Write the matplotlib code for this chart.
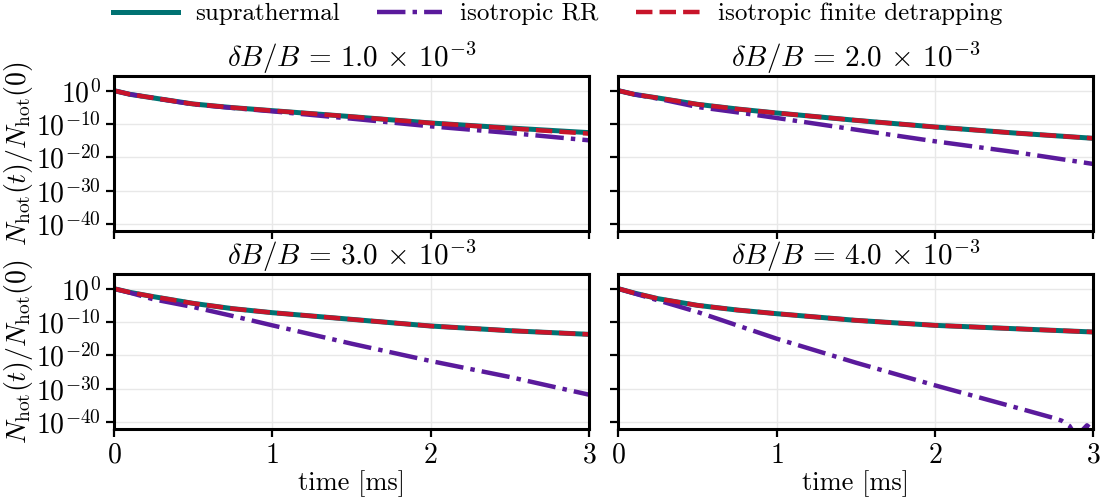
import matplotlib
matplotlib.use('Agg')
import matplotlib.pyplot as plt
import numpy as np
from matplotlib.ticker import LogFormatterSciNotation, NullLocator

plt.rcParams['font.family'] = 'serif'
plt.rcParams['font.serif'] = ['cmr10']
plt.rcParams['mathtext.fontset'] = 'cm'
plt.rcParams['axes.formatter.use_mathtext'] = True
plt.rcParams['axes.unicode_minus'] = False
plt.rcParams['font.size'] = 18

# data (log10 of N_hot(t)/N_hot(0))
t = [0, 0.1, 0.25, 0.5, 0.75, 1.0, 1.5, 2.0, 2.5, 3.0]
t_rr4 = [0, 0.1, 0.25, 0.5, 0.75, 1.0, 1.5, 2.0, 2.5, 2.75, 2.8, 2.85, 2.88, 2.93, 2.96, 3.0]

dB = ['1.0', '2.0', '3.0', '4.0']

supra_1 = [0, -1.1, -2.2, -4.0, -5.1, -6.0, -7.8, -9.7, -11.2, -12.6]
rr_1 = [0, -1.1, -2.2, -4.1, -5.2, -6.2, -8.4, -10.7, -12.7, -14.9]
fin_1 = [0, -1.1, -2.2, -4.0, -5.1, -6.0, -7.8, -9.7, -11.3, -12.9]

supra_2 = [0, -1.1, -2.2, -4.1, -5.5, -6.7, -8.9, -10.9, -12.7, -14.3]
rr_2 = [0, -1.1, -2.4, -4.9, -6.5, -8.2, -11.7, -15.2, -18.4, -22.0]
fin_2 = [0, -1.1, -2.2, -4.1, -5.5, -6.7, -8.9, -10.9, -12.7, -14.3]

supra_3 = [0, -1.1, -2.4, -4.4, -6.0, -7.2, -9.2, -11.2, -12.6, -13.7]
rr_3 = [0, -1.2, -3.2, -5.5, -8.2, -11.0, -16.5, -21.7, -26.5, -31.8]
fin_3 = [0, -1.1, -2.4, -4.4, -6.0, -7.2, -9.2, -11.2, -12.6, -13.7]

supra_4 = [0, -1.3, -3.0, -5.0, -6.4, -7.5, -9.5, -11.0, -12.0, -13.0]
rr_4 = [0, -1.4, -3.5, -7.0, -11.0, -15.0, -22.2, -29.0, -35.5, -38.8, -39.6, -41.2, -43.5, -42.5, -41.0, -42.6]
fin_4 = [0, -1.3, -3.0, -5.0, -6.4, -7.5, -9.5, -11.0, -12.0, -13.0]

supra = [supra_1, supra_2, supra_3, supra_4]
rr = [rr_1, rr_2, rr_3, rr_4]
rr_t = [t, t, t, t_rr4]
fin = [fin_1, fin_2, fin_3, fin_4]

c_supra = '#007272'
c_rr = '#5a1a9c'
c_fin = '#c8142a'

fig, axs = plt.subplots(2, 2, figsize=(11.04, 5.01), dpi=100, sharex=True, sharey=True)
fig.subplots_adjust(left=0.1033, right=0.9903, bottom=0.1437, top=0.849, wspace=0.062, hspace=0.275)

for i, ax in enumerate(axs.flat):
    l1, = ax.plot(t, 10.0**np.array(supra[i]), color=c_supra, lw=3.6, label='suprathermal')
    l2, = ax.plot(rr_t[i], 10.0**np.array(rr[i]), color=c_rr, lw=3.2, ls='-.', label='isotropic RR')
    l3, = ax.plot(t, 10.0**np.array(fin[i]), color=c_fin, lw=3.2, ls='--', label='isotropic finite detrapping')
    ax.set_yscale('log')
    ax.set_title(r'$\delta B/B\, =\, %s\, \times\, 10^{-3}$' % dB[i], fontsize=21, pad=4)
    ax.grid(True, color='#e8e8e8', lw=1)
    for s in ax.spines.values():
        s.set_linewidth(2.2)
    ax.tick_params(width=1.6, length=6, labelsize=20)

ax = axs[0, 0]
ax.set_xlim(0, 3)
ax.set_ylim(10**-42.1, 10**4.5)
ax.set_yticks([1e0, 1e-10, 1e-20, 1e-30, 1e-40])
ax.yaxis.set_major_formatter(LogFormatterSciNotation())
ax.yaxis.set_minor_locator(NullLocator())
ax.set_xticks([0, 1, 2, 3])

for a in axs[:, 0]:
    a.set_ylabel(r'$N_\mathrm{hot}(t)/N_\mathrm{hot}(0)$', fontsize=20, labelpad=1)
for a in axs[1, :]:
    a.set_xlabel('time [ms]', fontsize=19, labelpad=1)

fig.legend(handles=[l1, l2, l3], loc='center', bbox_to_anchor=(0.505, 0.972), ncol=3,
           frameon=False, handlelength=2.6, handletextpad=0.7, columnspacing=1.5)

fig.savefig('out.png', dpi=100)
